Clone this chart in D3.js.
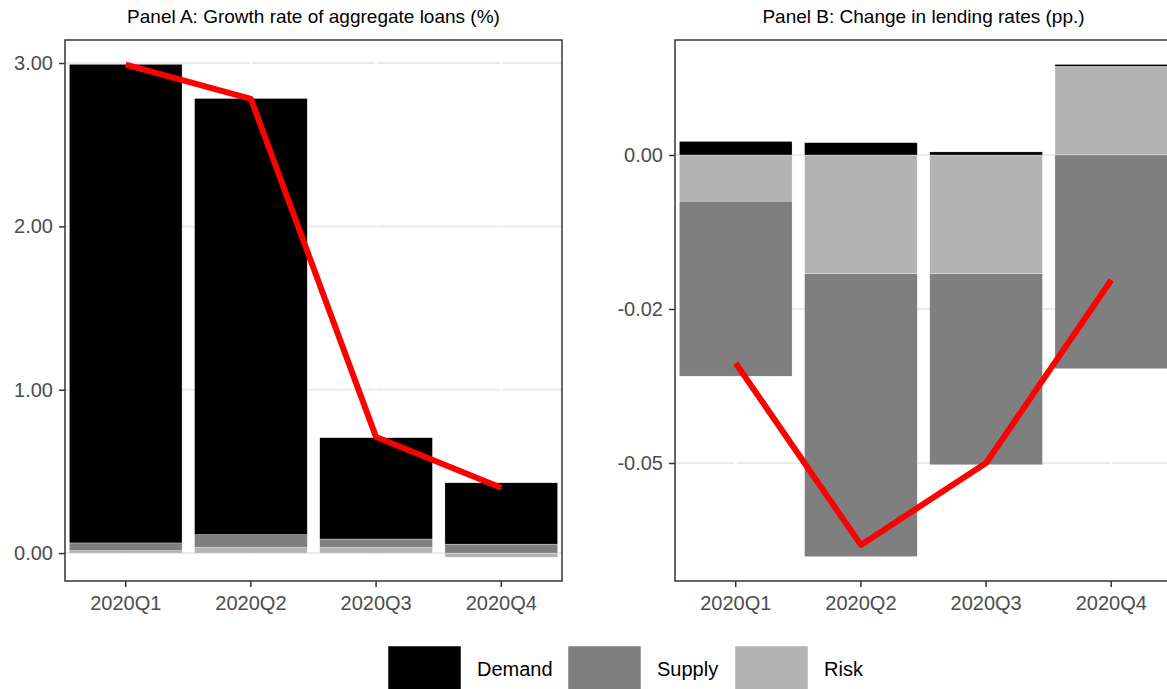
<!DOCTYPE html>
<html>
<head>
<meta charset="utf-8">
<script src="https://cdn.jsdelivr.net/npm/d3@7"></script>
<style>
  html, body { margin: 0; padding: 0; background: #fff; }
  svg { display: block; font-family: "Liberation Sans", Arial, sans-serif; }
</style>
</head>
<body>
<svg id="chart" width="1167" height="689"></svg>
<script>
// ---------- data ----------
const categories = ["2020Q1", "2020Q2", "2020Q3", "2020Q4"];
const seriesNames = ["Demand", "Supply", "Risk"];
const seriesColors = ["#000000", "#7f7f7f", "#b3b3b3"];

// Panel A: growth rate of aggregate loans (%)
const demandA = [2.93, 2.67, 0.62, 0.375];
const supplyA = [0.047, 0.078, 0.051, 0.055];
const riskA   = [0.015, 0.035, 0.035, -0.025];
const totalA  = [2.99, 2.78, 0.71, 0.40];
const ticksA  = [0, 1, 2, 3];
const tickLabelsA = ["0.00", "1.00", "2.00", "3.00"];

// Panel B: change in lending rates (pp.)
const demandB = [0.0022, 0.0020, 0.0005, 0.0003];
const supplyB = [-0.0284, -0.0459, -0.0310, -0.0347];
const riskB   = [-0.0075, -0.0193, -0.0193, 0.0144];
const totalB  = [-0.0338, -0.0633, -0.0500, -0.0203];
const ticksB  = [-0.05, -0.025, 0];
const tickLabelsB = ["-0.05", "-0.02", "0.00"];

// ---------- drawing ----------
const svg = d3.select("#chart");
const panelTop = 40, panelBottom = 581, panelW = 497;

function drawPanel(opt) {
  const left = opt.left, right = left + panelW;
  const g = svg.append("g");

  const x = d3.scaleBand().domain(categories).range([left, right])
    .paddingInner(0.1).paddingOuter(0.035);
  const y = d3.scaleLinear().domain(opt.yDomain).range([panelBottom, panelTop]);

  const clipId = "clip" + opt.id;
  svg.append("clipPath").attr("id", clipId).append("rect")
    .attr("x", left).attr("y", panelTop).attr("width", panelW).attr("height", panelBottom - panelTop);

  const inner = g.append("g").attr("clip-path", `url(#${clipId})`);
  inner.append("rect").attr("x", left).attr("y", panelTop)
    .attr("width", panelW).attr("height", panelBottom - panelTop).attr("fill", "#fff");

  // horizontal grid
  inner.selectAll("line.hg").data(opt.ticks).join("line")
    .attr("x1", left).attr("x2", right)
    .attr("y1", d => y(d)).attr("y2", d => y(d))
    .attr("stroke", "#ebebeb").attr("stroke-width", 2);
  // vertical grid (white)
  inner.selectAll("line.vg").data(categories).join("line")
    .attr("x1", d => x(d) + x.bandwidth() / 2).attr("x2", d => x(d) + x.bandwidth() / 2)
    .attr("y1", panelTop).attr("y2", panelBottom)
    .attr("stroke", "#ffffff").attr("stroke-width", 2);

  // stacked bars (diverging)
  const rows = categories.map((c, i) => ({
    cat: c, Demand: opt.demand[i], Supply: opt.supply[i], Risk: opt.risk[i]
  }));
  const stack = d3.stack().keys(["Risk", "Supply", "Demand"])
    .offset(d3.stackOffsetDiverging);
  const layers = stack(rows);
  layers.forEach(layer => {
    const col = seriesColors[seriesNames.indexOf(layer.key)];
    inner.append("g").selectAll("rect").data(layer).join("rect")
      .attr("x", d => x(d.data.cat))
      .attr("width", x.bandwidth())
      .attr("y", d => y(Math.max(d[0], d[1])))
      .attr("height", d => Math.abs(y(d[0]) - y(d[1])))
      .attr("fill", col)
      .attr("stroke", "#ffffff").attr("stroke-width", 0.3);
  });

  // total line
  const line = d3.line()
    .x((d, i) => x(categories[i]) + x.bandwidth() / 2)
    .y(d => y(d));
  inner.append("path").datum(opt.total)
    .attr("d", line).attr("fill", "none")
    .attr("stroke", "#ff0000").attr("stroke-width", 6)
    .attr("stroke-linejoin", "round");

  // border
  g.append("rect").attr("x", left).attr("y", panelTop)
    .attr("width", panelW).attr("height", panelBottom - panelTop)
    .attr("fill", "none").attr("stroke", "#333333").attr("stroke-width", 1.5);

  // axes
  const yAxis = d3.axisLeft(y).tickValues(opt.ticks)
    .tickFormat((d, i) => opt.tickLabels[i]).tickSize(6).tickPadding(6);
  const ya = g.append("g").attr("transform", `translate(${left},0)`).call(yAxis);
  const xAxis = d3.axisBottom(x).tickSize(6).tickPadding(9);
  const xa = g.append("g").attr("transform", `translate(0,${panelBottom})`).call(xAxis);
  [ya, xa].forEach(a => {
    a.select(".domain").remove();
    a.selectAll(".tick line").attr("stroke", "#333333").attr("stroke-width", 1.5);
    a.selectAll(".tick text").attr("fill", "#4d4d4d").attr("font-size", 20)
      .attr("font-family", '"Liberation Sans", Arial, sans-serif');
  });

  // title
  svg.append("text").attr("x", (left + right) / 2).attr("y", 23)
    .attr("text-anchor", "middle").attr("font-size", 19).attr("fill", "#000")
    .text(opt.title);
}

drawPanel({
  id: "A", left: 65, yDomain: [-0.171, 3.141],
  demand: demandA, supply: supplyA, risk: riskA, total: totalA,
  ticks: ticksA, tickLabels: tickLabelsA,
  title: "Panel A: Growth rate of aggregate loans (%)"
});
drawPanel({
  id: "B", left: 675, yDomain: [-0.06916, 0.01867],
  demand: demandB, supply: supplyB, risk: riskB, total: totalB,
  ticks: ticksB, tickLabels: tickLabelsB,
  title: "Panel B: Change in lending rates (pp.)"
});

// legend
const legendX = [388, 568, 735];
const lg = svg.append("g");
seriesNames.forEach((name, i) => {
  lg.append("rect").attr("x", legendX[i]).attr("y", 646)
    .attr("width", 73).attr("height", 46)
    .attr("fill", seriesColors[i]).attr("stroke", "#ffffff").attr("stroke-width", 0.5);
  lg.append("text").attr("x", legendX[i] + 89).attr("y", 669)
    .attr("dy", "0.35em").attr("font-size", 20).attr("fill", "#000")
    .text(name);
});
</script>
</body>
</html>
